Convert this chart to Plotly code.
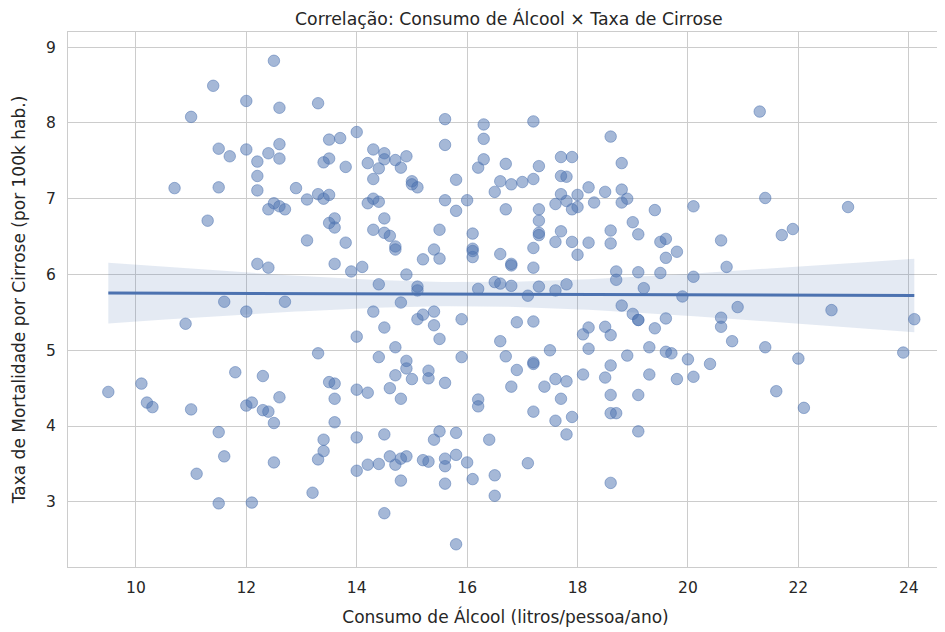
import numpy as np
import plotly.graph_objects as go

alcool = [
    9.5, 10.1, 10.2, 10.3,
    10.7, 10.9, 11.0, 11.0, 11.1, 11.3, 11.4, 11.5, 11.5, 11.5, 11.5, 11.6, 11.6,
    11.7, 11.8, 12.0, 12.0, 12.0, 12.0, 12.1, 12.1, 12.2, 12.2, 12.2, 12.2, 12.3, 12.3,
    12.4, 12.4, 12.4, 12.4, 12.5, 12.5, 12.5, 12.5,
    12.6, 12.6, 12.6, 12.6, 12.6, 12.7, 12.7, 12.9, 13.1, 13.1, 13.2, 13.3, 13.3, 13.3,
    13.3, 13.4, 13.4, 13.4, 13.4, 13.5, 13.5, 13.5, 13.5, 13.5,
    13.6, 13.6, 13.6, 13.6, 13.6, 13.6, 13.7, 13.8, 13.8, 13.9, 14.0, 14.0, 14.0, 14.0,
    14.0, 14.1, 14.2, 14.2, 14.2, 14.2, 14.3, 14.3, 14.3, 14.3, 14.3, 14.4, 14.4, 14.4,
    14.4, 14.4, 14.5, 14.5, 14.5, 14.5, 14.5, 14.5, 14.5,
    14.6, 14.6, 14.6, 14.7, 14.7, 14.7, 14.7, 14.7, 14.7, 14.8, 14.8, 14.8, 14.8, 14.8,
    14.9, 14.9, 14.9, 14.9, 14.9, 15.0, 15.0, 15.0, 15.1, 15.1, 15.1, 15.1, 15.2, 15.2,
    15.2, 15.3, 15.3, 15.3, 15.4, 15.4, 15.4, 15.4, 15.5, 15.5, 15.5, 15.5,
    15.6, 15.6, 15.6, 15.6, 15.6, 15.6, 15.6, 15.8, 15.8, 15.8, 15.8, 15.8, 15.9, 15.9,
    16.0, 16.0, 16.1, 16.1, 16.1, 16.1, 16.1, 16.2, 16.2, 16.2, 16.2, 16.3, 16.3, 16.3,
    16.4, 16.5, 16.5, 16.5, 16.5,
    16.6, 16.6, 16.6, 16.6, 16.7, 16.7, 16.7, 16.8, 16.8, 16.8, 16.8, 16.8, 16.9, 16.9,
    17.0, 17.1, 17.1, 17.2, 17.2, 17.2, 17.2, 17.2, 17.2, 17.2, 17.2, 17.3, 17.3, 17.3,
    17.3, 17.3, 17.3, 17.4, 17.5,
    17.6, 17.6, 17.6, 17.6, 17.6, 17.7, 17.7, 17.7, 17.7, 17.7, 17.8, 17.8, 17.8, 17.8,
    17.8, 17.9, 17.9, 17.9, 17.9, 18.0, 18.0, 18.0, 18.1, 18.1, 18.2, 18.2, 18.2, 18.2,
    18.3, 18.5, 18.5, 18.5,
    18.6, 18.6, 18.6, 18.6, 18.6, 18.6, 18.6, 18.6, 18.7, 18.7, 18.7, 18.8, 18.8, 18.8,
    18.8, 18.9, 18.9, 19.0, 19.0, 19.1, 19.1, 19.1, 19.1, 19.1, 19.1, 19.2, 19.3, 19.3,
    19.4, 19.4,
    19.5, 19.5, 19.6, 19.6, 19.6, 19.6, 19.7, 19.8, 19.8, 19.9, 20.0, 20.1, 20.1, 20.1,
    20.4,
    20.6, 20.6, 20.6, 20.7, 20.8, 20.9, 21.3, 21.4, 21.4, 21.6, 21.7, 21.9, 22.0, 22.1,
    22.6, 22.9, 23.9, 24.1,
]

cirrose = [
    4.45, 4.56, 4.31, 4.25,
    7.14, 5.35, 8.08, 4.22, 3.37, 6.71, 8.49, 7.66, 7.15, 3.92, 2.98, 5.64, 3.60,
    7.56, 4.71, 8.29, 7.65, 5.51, 4.27, 4.31, 2.99, 7.49, 7.30, 7.11, 6.14, 4.66, 4.21,
    7.60, 6.86, 6.09, 4.19, 8.82, 6.94, 4.04, 3.52,
    8.20, 7.72, 7.53, 6.90, 4.38, 6.86, 5.64, 7.14, 6.45, 6.99, 3.12, 8.26, 7.06, 4.96,
    3.56, 7.48, 7.00, 3.82, 3.67, 7.78, 7.53, 7.05, 6.68, 4.58,
    6.74, 6.62, 6.14, 4.56, 4.36, 4.05, 7.80, 7.42, 6.42, 6.04, 7.88, 5.18, 4.48, 3.85,
    3.41, 6.10, 7.47, 6.94, 4.44, 3.49, 7.65, 7.26, 7.00, 6.59, 5.51, 7.40, 6.96, 5.87,
    4.91, 3.50, 7.60, 7.52, 6.74, 6.55, 5.30, 3.89, 2.85,
    6.51, 4.50, 3.60, 7.51, 6.37, 6.33, 5.04, 4.67, 3.49, 7.41, 5.63, 4.36, 3.57, 3.28,
    7.56, 6.00, 4.86, 4.76, 3.60, 7.23, 7.19, 4.62, 7.15, 5.84, 5.79, 5.41, 6.20, 5.47,
    3.55, 4.73, 4.63, 3.53, 6.33, 5.51, 5.33, 3.82, 6.59, 6.21, 5.15, 3.93,
    8.05, 7.71, 6.98, 4.57, 3.57, 3.47, 3.24, 7.25, 6.84, 3.91, 3.62, 2.44, 5.41, 4.91,
    6.98, 3.52, 6.54, 6.34, 6.31, 6.23, 3.30, 7.41, 5.81, 4.35, 4.26, 7.98, 7.79, 7.52,
    3.82, 7.09, 5.90, 3.35, 3.08,
    7.23, 6.27, 5.88, 5.12, 7.46, 6.86, 4.92, 7.19, 6.14, 6.12, 5.85, 4.52, 5.37, 4.74,
    7.22, 5.72, 3.51, 8.02, 7.26, 6.35, 6.09, 5.38, 4.84, 4.82, 4.19, 7.43, 6.86, 6.71,
    6.55, 6.52, 5.84, 4.52, 5.00,
    6.93, 6.43, 5.79, 4.62, 4.07, 7.55, 7.30, 7.06, 6.57, 4.36, 7.29, 6.97, 5.87, 4.59,
    3.89, 7.55, 6.86, 6.43, 4.12, 7.05, 6.89, 6.26, 5.21, 4.68, 7.15, 6.42, 5.30, 5.02,
    6.95, 7.09, 5.31, 4.64,
    7.82, 6.58, 6.41, 5.20, 4.80, 4.41, 4.17, 3.25, 6.04, 5.93, 4.17, 7.47, 7.12, 6.95,
    5.59, 7.00, 4.93, 6.69, 5.48, 6.53, 6.03, 5.40, 5.40, 4.41, 3.93, 5.82, 5.04, 4.68,
    6.85, 5.29,
    6.43, 6.02, 6.47, 6.22, 5.42, 4.98, 4.96, 6.30, 4.62, 5.71, 4.88, 6.90, 5.97, 4.65,
    4.82,
    6.45, 5.43, 5.31, 6.10, 5.12, 5.57, 8.15, 7.01, 5.04, 4.46, 6.52, 6.60, 4.89, 4.24,
    5.53, 6.89, 4.97, 5.41,
]

titulo = "Correlação: Consumo de Álcool × Taxa de Cirrose"
titulo_x = "Consumo de Álcool (litros/pessoa/ano)"
titulo_y = "Taxa de Mortalidade por Cirrose (por 100k hab.)"
x_ticks = [10, 12, 14, 16, 18, 20, 22, 24]
y_ticks = [3, 4, 5, 6, 7, 8, 9]

x = np.array(alcool)
y = np.array(cirrose)
n = len(x)
xm, ym = x.mean(), y.mean()
sxx = ((x - xm) ** 2).sum()
b = ((x - xm) * (y - ym)).sum() / sxx
a = ym - b * xm
resid = y - (a + b * x)
s = np.sqrt((resid ** 2).sum() / (n - 2))
xg = np.linspace(x.min(), x.max(), 100)
yg = a + b * xg
se = s * np.sqrt(1.0 / n + (xg - xm) ** 2 / sxx)
t = 1.968
lo = yg - t * se
hi = yg + t * se

blue = "#4c72b0"
fig = go.Figure()
fig.add_trace(go.Scatter(
    x=np.concatenate([xg, xg[::-1]]), y=np.concatenate([hi, lo[::-1]]),
    fill="toself", fillcolor="rgba(76,114,176,0.15)", line=dict(width=0),
    hoverinfo="skip", showlegend=False))
fig.add_trace(go.Scatter(
    x=alcool, y=cirrose, mode="markers",
    marker=dict(size=11.5, color="rgba(76,114,176,0.5)",
                line=dict(width=1, color="rgba(76,114,176,0.5)")),
    showlegend=False))
fig.add_trace(go.Scatter(
    x=xg, y=yg, mode="lines", line=dict(color=blue, width=3), showlegend=False))

axis_common = dict(
    showgrid=True, gridcolor="#cccccc", gridwidth=1,
    showline=True, linecolor="#cccccc", linewidth=1.25, mirror=True,
    zeroline=False, ticks="", tickfont=dict(size=15.5, color="#262626"),
    automargin=False,
)
# the page body adds an 8px offset, so the figure is sized to the visible area
fig.update_layout(
    width=937, height=624,
    paper_bgcolor="white", plot_bgcolor="white",
    font=dict(family="DejaVu Sans", color="#262626"),
    margin=dict(l=60, r=2, t=24, b=65),
    title=dict(text=titulo, x=0.5345, xanchor="center", y=0.982, yanchor="middle",
               font=dict(size=17.3, color="#262626")),
    xaxis=dict(range=[8.77, 24.62], tickvals=x_ticks, ticklabelstandoff=6,
               title=dict(text=titulo_x, font=dict(size=17)),
               **axis_common),
    yaxis=dict(range=[2.14, 9.2], tickvals=y_ticks, ticklabelstandoff=8,
               title=dict(text=titulo_y, font=dict(size=17)),
               **axis_common),
)
fig.write_html("out.html")
